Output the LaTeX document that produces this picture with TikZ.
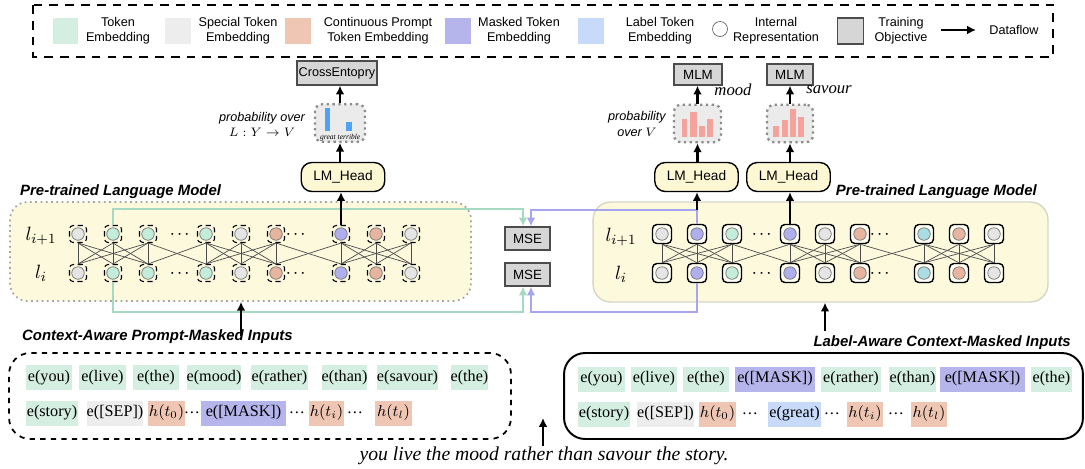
\documentclass[tikz,border=0pt]{standalone}
\usepackage{fontspec}
\setmainfont{Liberation Sans}
\newfontfamily\serifface{Liberation Serif}
\usepackage{amsmath}
\usetikzlibrary{calc,positioning,arrows.meta}

\definecolor{embgreen}{HTML}{D4EFE2}
\definecolor{embgray}{HTML}{EDEDED}
\definecolor{embsalmon}{HTML}{EEC6B3}
\definecolor{embpurple}{HTML}{B5B5EC}
\definecolor{emblabel}{HTML}{C8DAFA}
\definecolor{objgray}{HTML}{D6D6D6}
\definecolor{plmfill}{HTML}{FCF9DD}
\definecolor{headfill}{HTML}{FDF8D3}
\definecolor{plmedge}{HTML}{D6D6C6}
\definecolor{greenline}{HTML}{A5D9C2}
\definecolor{blueline}{HTML}{A7A5EF}
\definecolor{barblue}{HTML}{4DA3F6}
\definecolor{barpink}{HTML}{F3A39B}
\definecolor{cgray}{HTML}{E5E5E5}
\definecolor{cgreen}{HTML}{C4ECDB}
\definecolor{csalmon}{HTML}{E7B4A0}
\definecolor{cpurple}{HTML}{B0AFEE}
\definecolor{ccyan}{HTML}{AADDE3}

\begin{document}
\begin{tikzpicture}[x=0.02cm,y=-0.02cm,
    every node/.style={font=\fontsize{7.2}{8.6}\selectfont},
    swatch/.style={minimum width=0.52cm,minimum height=0.52cm,inner sep=0pt},
    tok/.style={minimum height=0.5cm,inner sep=0pt,font=\serifface\fontsize{9.2}{10}\selectfont},
    objbox/.style={draw=black!70,fill=objgray,line width=0.8pt,inner sep=0pt,minimum height=0.46cm,font=\fontsize{7.6}{9}\selectfont},
    headbox/.style={draw,fill=headfill,rounded corners=6pt,line width=0.8pt,minimum width=1.67cm,minimum height=0.58cm,font=\fontsize{7.8}{9}\selectfont},
    probbox/.style={draw=black!45,fill=black!8,dotted,line width=1.3pt,rounded corners=4pt,minimum height=0.75cm,minimum width=0.94cm},
    lcell/.style={draw,densely dashed,fill=plmfill,rounded corners=2pt,minimum size=0.34cm,inner sep=0pt,line width=0.6pt},
    rcell/.style={draw,fill=white!60!plmfill,rounded corners=2.5pt,minimum size=0.38cm,inner sep=0pt,line width=0.8pt},
    neuron/.style={circle,draw=black!55,line width=0.4pt,minimum size=0.25cm,inner sep=0pt},
    link/.style={black!70,line width=0.4pt},
    dataflow/.style={-{Latex[length=5pt,width=5pt]},line width=1.5pt},
    greenlink/.style={greenline,line width=1.2pt,-{Latex[length=5pt,width=5pt]}},
    bluelink/.style={blueline,line width=1.2pt,-{Latex[length=5pt,width=5pt]}},
    capt/.style={font=\bfseries\itshape\fontsize{8.5}{10}\selectfont},
  ]
\useasboundingbox (0,0) rectangle (1085,468);

% legend
\draw[line width=1.2pt,dash pattern=on 5pt off 4pt] (33,5) rectangle (1053,57);
\node[swatch,fill=embgreen] (sw1) at (65.5,31) {};
\node[align=center] (lg1) at (118,31) {Token\\Embedding};
\node[swatch,fill=embgray] (sw2) at (178,31) {};
\node[align=center] (lg2) at (238,31) {Special Token\\Embedding};
\node[swatch,fill=embsalmon] (sw3) at (298,31) {};
\node[align=center] (lg3) at (378,31) {Continuous Prompt\\Token Embedding};
\node[swatch,fill=embpurple] (sw4) at (458,31) {};
\node[align=center] (lg4) at (519,31) {Masked Token\\Embedding};
\node[swatch,fill=emblabel] (sw5) at (591,31) {};
\node[align=center] (lg5) at (660,31) {Label Token\\Embedding};
\node[circle,draw=black!60,minimum size=0.3cm,inner sep=0pt] (sw6) at (720,29) {};
\node[align=center] (lg6) at (776,31) {Internal\\Representation};
\node[objbox,minimum width=0.52cm,minimum height=0.52cm] (sw7) at (850.5,31) {};
\node[align=center] (lg7) at (901,31) {Training\\Objective};
\coordinate (lga) at (941,30);
\coordinate (lgb) at (976,30);
\draw[dataflow] (lga) -- (lgb);
\node (lg8) at (1014,30) {Dataflow};

% language models
\node[draw=black!35,dotted,line width=1pt,fill=plmfill,rounded corners=10pt,minimum width=9.22cm,minimum height=1.98cm] (lplm) at (240.5,251.5) {};
\node[draw=plmedge,line width=0.8pt,fill=plmfill,rounded corners=10pt,minimum width=9.1cm,minimum height=2cm] (rplm) at (820.5,252) {};
\node[capt,anchor=west] (lplmname) at (14,192) {Pre-trained Language Model};
\node[capt,anchor=east] (rplmname) at (1043,192) {Pre-trained Language Model};

\node[font=\fontsize{11}{13}\selectfont] (llup) at (41,236) {$l_{i+1}$};
\node[font=\fontsize{11}{13}\selectfont] (lllo) at (41,273) {$l_i$};
\node[font=\fontsize{11}{13}\selectfont] (rlup) at (621,237) {$l_{i+1}$};
\node[font=\fontsize{11}{13}\selectfont] (rllo) at (621,274) {$l_i$};

\foreach \cx/\col [count=\k] in {78/cgray,113/cgreen,148/cgreen,206/cgreen,241/cgray,276/csalmon,341/cpurple,376/csalmon,411/cgray}{
  \node[lcell] (lt\k) at (\cx,234) {};
  \node[neuron,fill=\col] at (lt\k) {};
  \node[lcell] (lb\k) at (\cx,273) {};
  \node[neuron,fill=\col] at (lb\k) {};
}
\foreach \cx/\col [count=\k] in {662/cgray,697/cpurple,732/cgreen,790/cpurple,825/cgray,860/csalmon,924/ccyan,959/csalmon,994/cgray}{
  \node[rcell] (rt\k) at (\cx,234) {};
  \node[neuron,fill=\col] at (rt\k) {};
  \node[rcell] (rb\k) at (\cx,273) {};
  \node[neuron,fill=\col] at (rb\k) {};
}
\foreach \cx/\cy [count=\k] in {181/234,181/273,297/234,297/273,763/234,763/273,881/234,881/273}
  \node (ell\k) at (\cx,\cy) {$\boldsymbol{\cdots}$};

\foreach \i in {1,...,9}
  \foreach \j in {1,...,9}{
    \pgfmathtruncatemacro\keep{or(int((\i-1)/3)==int((\j-1)/3),and(abs(\i-\j)==1,or(\i+\j==7,\i+\j==13)))}
    \ifnum\keep=1
      \draw[link] (lt\i.south) -- (lb\j.north);
      \draw[link] (rt\i.south) -- (rb\j.north);
    \fi
  }

% MSE objectives
\node[objbox,minimum width=0.9cm] (mset) at (527.5,238.5) {MSE};
\node[objbox,minimum width=0.9cm] (mseb) at (527.5,274.5) {MSE};
\coordinate (gtop) at (523,209);
\coordinate (gbot) at (523,312);
\coordinate (btop) at (531,210);
\coordinate (bbot) at (531,312);
\draw[greenlink] (lt2.north) |- (gtop) -- (gtop |- mset.north);
\draw[greenlink] (lb2.south) |- (gbot) -- (gbot |- mseb.south);
\draw[bluelink] (rt2.north) |- (btop) -- (btop |- mset.north);
\draw[bluelink] (rb2.south) |- (bbot) -- (bbot |- mseb.south);

% heads, left
\node[headbox] (lhead) at (343,177) {LM\_Head};
\node[probbox,minimum width=1cm] (lprob) at (340,123) {};
\node[objbox,minimum width=1.6cm,minimum height=0.48cm,font=\fontsize{7.2}{9}\selectfont] (ce) at (337,73) {CrossEntopry};
\fill[barblue] (325,108) rectangle (330,131);
\fill[barblue] (346,122) rectangle (352,131);
\node[font=\serifface\itshape\fontsize{4.3}{5}\selectfont,anchor=base] (lgreat) at (328,139) {great};
\node[font=\serifface\itshape\fontsize{4.3}{5}\selectfont,anchor=base] (lterr) at (349,139) {terrible};
\node[font=\itshape\fontsize{7.2}{8.6}\selectfont,align=center] (lpover) at (262,124) {probability over\\$L:Y\rightarrow V$};
\draw[dataflow] (lt7.north) -- (lt7.north |- lhead.south);
\draw[dataflow] (lprob.south |- lhead.north) -- (lprob.south);
\draw[dataflow] (lprob.north) -- (lprob.north |- ce.south);

% heads, right
\node[headbox] (rhead1) at (696.5,177) {LM\_Head};
\node[headbox] (rhead2) at (788.5,177) {LM\_Head};
\node[probbox] (rprob1) at (697.5,123.5) {};
\node[probbox,minimum width=0.92cm] (rprob2) at (790,123.5) {};
\node[objbox,minimum width=0.96cm,minimum height=0.42cm] (mlm1) at (698,74.5) {MLM};
\node[objbox,minimum width=0.92cm,minimum height=0.42cm] (mlm2) at (790,74.5) {MLM};
\foreach \xa/\xb/\yt in {682/687/119,690/697/112,699/705/126,707/713/119,773/779/126,782/788/120,790/796/109,798/804/117}
  \fill[barpink] (\xa,137) rectangle (\xb,\yt);
\node[font=\serifface\itshape\fontsize{9.5}{10}\selectfont] (wmood) at (733,90) {mood};
\node[font=\serifface\itshape\fontsize{9.5}{10}\selectfont] (wsavour) at (829,90) {savour};
\node[font=\itshape\fontsize{7.2}{8.6}\selectfont,align=center] (rpover) at (637,124) {probability\\over $V$};
\draw[dataflow] (rt2.north |- btop) -- (rt2.north |- rhead1.south);
\draw[dataflow] (rt4.north) -- (rt4.north |- rhead2.south);
\draw[dataflow] (rprob1.south |- rhead1.north) -- (rprob1.south);
\draw[dataflow] (rprob2.south |- rhead2.north) -- (rprob2.south);
\draw[dataflow] (rprob1.north) -- (rprob1.north |- mlm1.south);
\draw[dataflow] (rprob2.north) -- (rprob2.north |- mlm2.south);

% inputs
\node[draw,dashed,line width=1pt,rounded corners=12pt,minimum width=10.04cm,minimum height=1.72cm] (linput) at (260,396) {};
\node[draw,line width=1.1pt,rounded corners=12pt,minimum width=10.38cm,minimum height=1.72cm] (rinput) at (823.5,396) {};
\node[capt,anchor=west] (lcapt) at (16,337) {Context-Aware Prompt-Masked Inputs};
\node[capt,anchor=east] (rcapt) at (1077,343) {Label-Aware Context-Masked Inputs};
\coordinate (lin) at (241,336);
\coordinate (rin) at (825,331);
\draw[dataflow] (lin) -- (lin |- lplm.south);
\draw[dataflow] (rin) -- (rin |- rplm.south);

\foreach \cx/\w/\col/\txt [count=\k] in {49/46/embgreen/e(you),102.5/47/embgreen/e(live),156/46/embgreen/e(the),214/54/embgreen/e(mood),279.5/57/embgreen/e(rather),344.5/45/embgreen/e(than),407.5/59/embgreen/e(savour),469.5/37/embgreen/e(the)}
  \node[tok,fill=\col,minimum width=\w*0.02cm] (la\k) at (\cx,377.5) {\txt};
\foreach \cx/\w/\col/\txt [count=\k] in {52/52/embgreen/e(story),115/56/embgray/e([SEP]),166.5/37/embsalmon/$h(t_0)$,192/8/none/\ldots,243.5/85/embpurple/e([MASK]),297/8/none/\ldots,326.5/35/embsalmon/$h(t_i)$,355/8/none/\ldots,393.5/37/embsalmon/$h(t_l)$}
  \node[tok,fill=\col,minimum width=\w*0.02cm] (lb\k) at (\cx,413) {\txt};
\foreach \cx/\w/\col/\txt [count=\k] in {601.5/47/embgreen/e(you),654/46/embgreen/e(live),706/46/embgreen/e(the),775/80/embpurple/e([MASK]),851/60/embgreen/e(rather),912.5/47/embgreen/e(than),982.5/85/embpurple/e([MASK]),1051.5/41/embgreen/e(the)}
  \node[tok,fill=\col,minimum width=\w*0.02cm] (ra\k) at (\cx,379) {\txt};
\foreach \cx/\w/\col/\txt [count=\k] in {604/52/embgreen/e(story),665.5/55/embgray/e([SEP]),717.5/37/embsalmon/$h(t_0)$,750/8/none/\ldots,794.5/53/emblabel/e(great),832/8/none/\ldots,865/36/embsalmon/$h(t_i)$,896/8/none/\ldots,929/36/embsalmon/$h(t_l)$}
  \node[tok,fill=\col,minimum width=\w*0.02cm] (rb\k) at (\cx,414) {\txt};

\node[font=\serifface\itshape\fontsize{11.2}{13}\selectfont] (sent) at (544,456) {you live the mood rather than savour the story.};
\coordinate (sin) at (543,446);
\coordinate (sout) at (543,418);
\draw[dataflow] (sin) -- (sout);
\end{tikzpicture}
\end{document}
